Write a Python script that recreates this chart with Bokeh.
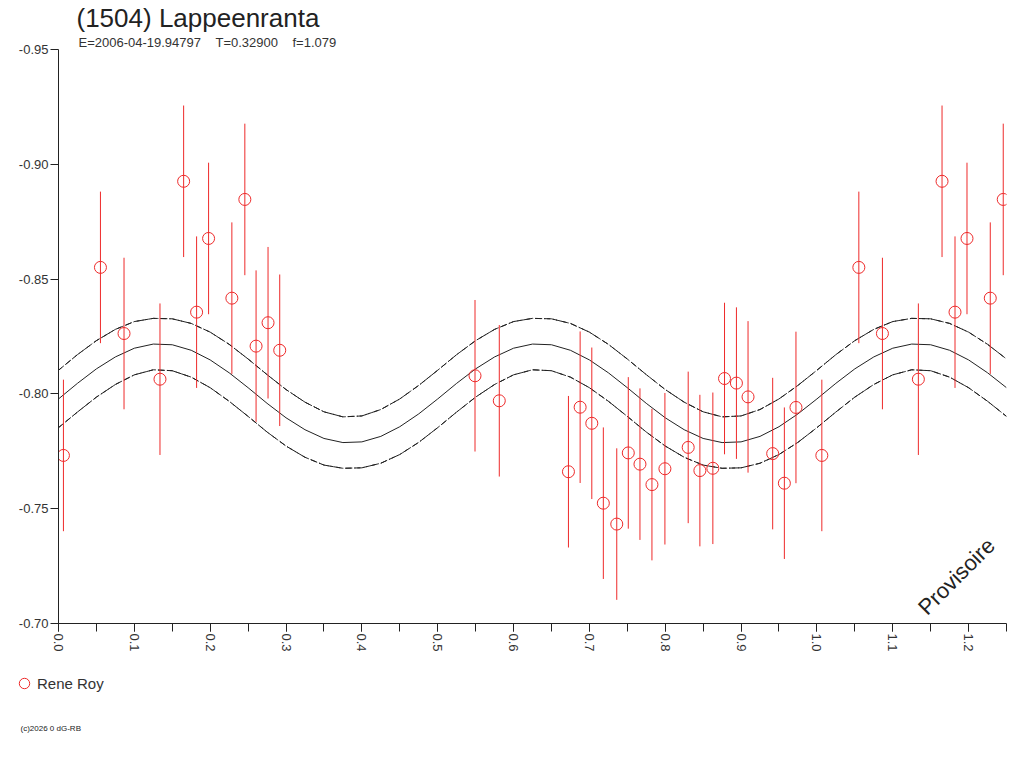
import math
from bokeh.plotting import figure
from bokeh.layouts import column
from bokeh.models import (Range1d, FixedTicker, PrintfTickFormatter, Label, Title,
                          Legend, LegendItem, ColumnDataSource)
from bokeh.embed import file_html
from bokeh.resources import INLINE

# ---------------- data ----------------
NBSP = "\u00a0"
title_text = "(1504) Lappeenranta"
subtitle_text = "E=2006-04-19.94797" + NBSP * 4 + "T=0.32900" + NBSP * 4 + "f=1.079"
observer = "Rene Roy"
watermark = "Provisoire"
footer = "(c)2026 0 dG-RB"

# observations (phase, reduced magnitude, error)
phase = [0.0065, 0.0553, 0.0864, 0.1338, 0.1650, 0.1821, 0.1979, 0.2286,
         0.2457, 0.2605, 0.2763, 0.2917, 0.5492, 0.5812, 0.6724, 0.6878,
         0.7032, 0.7184, 0.7361, 0.7513, 0.7667, 0.7825, 0.7996, 0.8303,
         0.8457, 0.8628, 0.8782, 0.8939, 0.9092, 0.9417, 0.9571, 0.9724]
mag = [-0.7732, -0.8551, -0.8263, -0.8064, -0.8926, -0.8356, -0.8677, -0.8417,
       -0.8847, -0.8208, -0.8310, -0.8190, -0.8079, -0.7970, -0.7661, -0.7942,
       -0.7872, -0.7524, -0.7433, -0.7743, -0.7694, -0.7605, -0.7674, -0.7767,
       -0.7666, -0.7676, -0.8067, -0.8047, -0.7987, -0.7740, -0.7611, -0.7941]
err = [0.033] * len(phase)

# fitted curve and its envelopes, read every 0.025 in phase over one rotation
curve_phase = [round(i * 0.025, 3) for i in range(41)]
curve_fit = [-0.7978, -0.8046, -0.8109, -0.8161, -0.8199, -0.8217, -0.8214, -0.8190,
             -0.8148, -0.8092, -0.8027, -0.7959, -0.7896, -0.7844, -0.7806, -0.7788,
             -0.7791, -0.7815, -0.7857, -0.7913,
             -0.7978, -0.8046, -0.8109, -0.8161, -0.8199, -0.8217, -0.8214, -0.8190,
             -0.8148, -0.8092, -0.8027, -0.7959, -0.7896, -0.7844, -0.7806, -0.7788,
             -0.7791, -0.7815, -0.7857, -0.7913, -0.7978]
curve_up = [-0.8103, -0.8171, -0.8232, -0.8281, -0.8315, -0.8329, -0.8327, -0.8307,
            -0.8269, -0.8216, -0.8152, -0.8084, -0.8019, -0.7964, -0.7922, -0.7900,
            -0.7904, -0.7932, -0.7978, -0.8037,
            -0.8103, -0.8171, -0.8232, -0.8281, -0.8315, -0.8329, -0.8327, -0.8307,
            -0.8269, -0.8216, -0.8152, -0.8084, -0.8019, -0.7964, -0.7922, -0.7900,
            -0.7904, -0.7932, -0.7978, -0.8037, -0.8103]
curve_lo = [-0.7853, -0.7921, -0.7986, -0.8041, -0.8083, -0.8105, -0.8101, -0.8073,
            -0.8027, -0.7968, -0.7902, -0.7834, -0.7773, -0.7724, -0.7690, -0.7676,
            -0.7678, -0.7698, -0.7736, -0.7789,
            -0.7853, -0.7921, -0.7986, -0.8041, -0.8083, -0.8105, -0.8101, -0.8073,
            -0.8027, -0.7968, -0.7902, -0.7834, -0.7773, -0.7724, -0.7690, -0.7676,
            -0.7678, -0.7698, -0.7736, -0.7789, -0.7853]

x_ticks = [round(i * 0.1, 1) for i in range(13)]
x_minor = [round(i * 0.05, 2) for i in range(26)]
y_ticks = [-0.95, -0.90, -0.85, -0.80, -0.75, -0.70]

PHASE_MAX = 1.25

# ---------------- wrap in phase (show 0 .. 1.25) ----------------
px, pm, pe = list(phase), list(mag), list(err)
for ph, m, e in zip(phase, mag, err):
    if ph + 1 <= PHASE_MAX:
        px.append(ph + 1); pm.append(m); pe.append(e)

cx, cf, cu, cl = list(curve_phase), list(curve_fit), list(curve_up), list(curve_lo)
for ph, f, u, l in zip(curve_phase, curve_fit, curve_up, curve_lo):
    if 0 < ph and ph + 1 <= PHASE_MAX + 1e-9:
        cx.append(ph + 1); cf.append(f); cu.append(u); cl.append(l)

obs = ColumnDataSource(dict(x=px, y=pm, lo=[m - e for m, e in zip(pm, pe)],
                            hi=[m + e for m, e in zip(pm, pe)]))
crv = ColumnDataSource(dict(x=cx, fit=cf, up=cu, lo=cl))

FONT = "Liberation Sans"
INK = "#222222"
RED = "#ee2a2a"

p = figure(width=1016, height=660, output_backend="svg", toolbar_location=None,
           x_range=Range1d(0, PHASE_MAX), y_range=Range1d(-0.70, -0.95),
           min_border_left=58, min_border_right=10, min_border_top=49,
           min_border_bottom=37)
p.outline_line_color = None
p.xgrid.visible = False
p.ygrid.visible = False
p.background_fill_color = "white"
p.border_fill_color = "white"

# axes
p.xaxis.ticker = FixedTicker(ticks=x_ticks, minor_ticks=x_minor)
p.xaxis.formatter = PrintfTickFormatter(format="%.1f")
p.xaxis.major_label_orientation = -math.pi / 2
p.yaxis.ticker = FixedTicker(ticks=y_ticks, minor_ticks=[])
p.yaxis.formatter = PrintfTickFormatter(format="%.2f")
for ax in (p.xaxis, p.yaxis):
    ax.axis_line_color = INK
    ax.major_tick_line_color = INK
    ax.minor_tick_line_color = INK
    ax.major_tick_in = 0
    ax.major_tick_out = 8
    ax.minor_tick_in = 0
    ax.minor_tick_out = 8
    ax.major_label_text_font = FONT
    ax.major_label_text_font_size = "13px"
    ax.major_label_text_color = "#333333"
    ax.major_label_standoff = 2

# curves
p.line("x", "fit", source=crv, line_color=INK, line_width=1)
for col in ("up", "lo"):
    p.line("x", col, source=crv, line_color=INK, line_width=1, line_dash="6 3")
    p.line("x", col, source=crv, line_color=INK, line_width=1, line_dash="7 2 1 2",
           line_dash_offset=3)

# observations
p.segment(x0="x", y0="lo", x1="x", y1="hi", source=obs, line_color=RED, line_width=1)
p.scatter("x", "y", source=obs, marker="circle", size=12, fill_color=None,
          line_color=RED, line_width=1)

# titles above the frame (subtitle nearest the frame)
p.add_layout(Title(text=subtitle_text, align="left", offset=20, standoff=0,
                   text_font=FONT, text_font_size="13px", text_font_style="normal",
                   text_color="#333333"), "above")
p.add_layout(Title(text=title_text, align="left", offset=18, standoff=0,
                   text_font=FONT, text_font_size="26px", text_font_style="normal",
                   text_color=INK), "above")

# watermark
p.add_layout(Label(x=1.184, y=-0.7205, text=watermark, text_font=FONT,
                   text_font_size="22px", text_color=INK, angle=math.pi / 4,
                   text_align="center", text_baseline="middle"))

# ---------------- strip below: legend + footer ----------------
b = figure(width=1016, height=100, output_backend="svg", toolbar_location=None,
           x_range=Range1d(0, 1), y_range=Range1d(0, 1),
           x_axis_type=None, y_axis_type=None,
           min_border_left=0, min_border_right=0, min_border_top=0,
           min_border_bottom=0)
b.frame_align = False
b.outline_line_color = None
b.xgrid.visible = False
b.ygrid.visible = False
# legend key: the same observations, which fall outside this strip's ranges
key = b.scatter("x", "y", source=obs, marker="circle", size=12, fill_color=None,
                line_color=RED, line_width=1)
legend = Legend(items=[LegendItem(label=observer, renderers=[key])],
                location=(11, 64), orientation="vertical",
                padding=0, margin=0, spacing=0, glyph_width=26, glyph_height=26,
                label_height=26, label_standoff=0, label_text_font=FONT,
                label_text_font_size="15px", label_text_color="#333333",
                border_line_color=None, background_fill_alpha=0)
b.add_layout(legend)
b.add_layout(Label(x=20, y=32, x_units="screen", y_units="screen", text=footer,
                   text_font=FONT, text_font_size="8px", text_color=INK,
                   text_baseline="alphabetic"))

open("out.html", "w").write(file_html(column(p, b, spacing=0), INLINE))
